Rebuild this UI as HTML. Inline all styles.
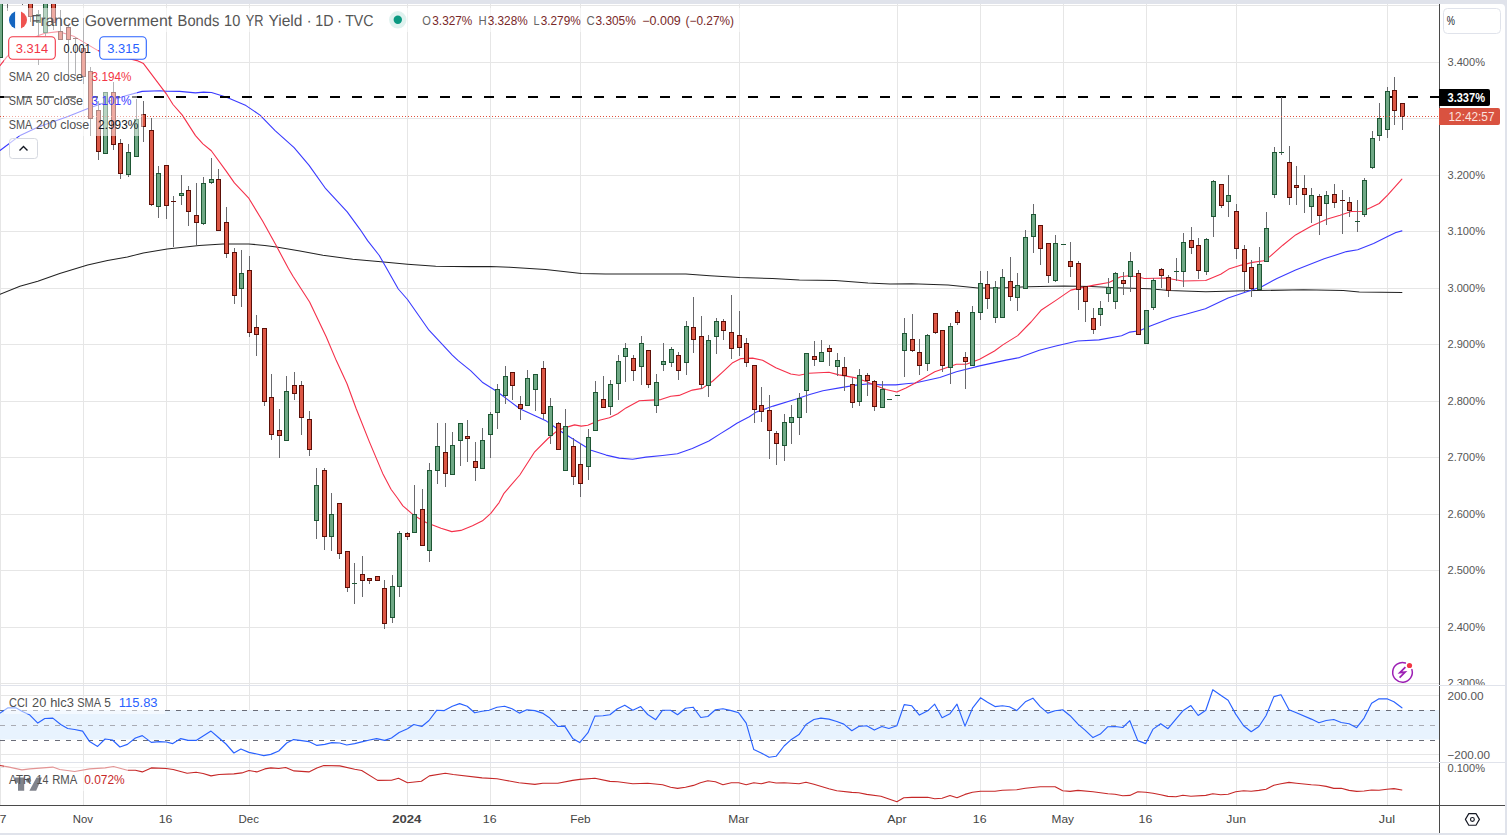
<!DOCTYPE html>
<html><head><meta charset="utf-8"><title>chart</title>
<style>html,body{margin:0;padding:0;background:#e0e3eb;}body{width:1507px;height:835px;overflow:hidden;position:relative;font-family:"Liberation Sans", sans-serif;}</style>
</head><body>
<svg width="1507" height="835" viewBox="0 0 1507 835" style="position:absolute;left:0;top:0;font-family:&quot;Liberation Sans&quot;,sans-serif"><defs><clipPath id="main"><rect x="0" y="4" width="1439" height="681"/></clipPath><clipPath id="cci"><rect x="0" y="686" width="1439" height="76"/></clipPath><clipPath id="atr"><rect x="0" y="763" width="1439" height="42"/></clipPath><clipPath id="pax"><rect x="1440" y="4" width="65" height="681"/></clipPath></defs><rect x="0" y="0" width="1507" height="835" fill="#e0e3eb"/><path d="M0,833 L0,8 Q0,4 4,4 L1501,4 Q1505,4 1505,8 L1505,833 Z" fill="#ffffff"/><g shape-rendering="crispEdges"><rect x="0" y="4" width="1" height="801" fill="#e6e6e6"/><rect x="83" y="4" width="1" height="801" fill="#e6e6e6"/><rect x="166" y="4" width="1" height="801" fill="#e6e6e6"/><rect x="249" y="4" width="1" height="801" fill="#e6e6e6"/><rect x="407" y="4" width="1" height="801" fill="#e6e6e6"/><rect x="490" y="4" width="1" height="801" fill="#e6e6e6"/><rect x="580" y="4" width="1" height="801" fill="#e6e6e6"/><rect x="739" y="4" width="1" height="801" fill="#e6e6e6"/><rect x="897" y="4" width="1" height="801" fill="#e6e6e6"/><rect x="980" y="4" width="1" height="801" fill="#e6e6e6"/><rect x="1063" y="4" width="1" height="801" fill="#e6e6e6"/><rect x="1146" y="4" width="1" height="801" fill="#e6e6e6"/><rect x="1236" y="4" width="1" height="801" fill="#e6e6e6"/><rect x="1387" y="4" width="1" height="801" fill="#e6e6e6"/><rect x="0" y="5" width="1439" height="1" fill="#e6e6e6"/><rect x="0" y="62" width="1439" height="1" fill="#e6e6e6"/><rect x="0" y="118" width="1439" height="1" fill="#e6e6e6"/><rect x="0" y="175" width="1439" height="1" fill="#e6e6e6"/><rect x="0" y="231" width="1439" height="1" fill="#e6e6e6"/><rect x="0" y="288" width="1439" height="1" fill="#e6e6e6"/><rect x="0" y="344" width="1439" height="1" fill="#e6e6e6"/><rect x="0" y="401" width="1439" height="1" fill="#e6e6e6"/><rect x="0" y="457" width="1439" height="1" fill="#e6e6e6"/><rect x="0" y="514" width="1439" height="1" fill="#e6e6e6"/><rect x="0" y="570" width="1439" height="1" fill="#e6e6e6"/><rect x="0" y="627" width="1439" height="1" fill="#e6e6e6"/><rect x="0" y="683" width="1439" height="1" fill="#e6e6e6"/><rect x="0" y="695" width="1439" height="1" fill="#e6e6e6"/><rect x="0" y="754" width="1439" height="1" fill="#e6e6e6"/><rect x="0" y="767" width="1439" height="1" fill="#e6e6e6"/></g><rect x="0" y="710" width="1439" height="29.5" fill="#e8f3fe"/><g shape-rendering="crispEdges"><line x1="0" y1="710.5" x2="1436" y2="710.5" stroke="#6a6d78" stroke-width="1" stroke-dasharray="5 6"/><line x1="0" y1="725.5" x2="1436" y2="725.5" stroke="#a9abb3" stroke-width="1" stroke-dasharray="5 6"/><line x1="0" y1="740.5" x2="1436" y2="740.5" stroke="#6a6d78" stroke-width="1" stroke-dasharray="5 6"/></g><polyline points="0.0,294.3 19.9,286.3 37.8,281.3 59.7,273.4 87.6,265.0 107.5,260.4 127.4,257.1 143.3,252.9 167.2,249.1 199.1,245.5 223.0,243.9 248.9,243.9 264.8,245.5 276.4,246.9 300.0,251.1 322.9,255.2 352.7,259.2 380.9,261.8 407.5,264.2 435.7,266.3 470.0,266.6 490.3,266.6 509.7,267.2 545.5,269.6 581.4,273.4 605.3,274.0 644.1,274.0 685.9,274.0 709.8,275.8 739.6,277.6 772.5,278.5 799.4,280.0 835.2,280.6 868.0,283.0 890.0,284.1 911.6,283.8 948.1,285.1 977.9,287.9 1000.0,288.0 1028.2,286.8 1063.9,286.0 1091.2,286.5 1116.1,287.7 1149.3,288.8 1169.2,290.5 1205.7,291.8 1255.7,290.6 1303.5,289.8 1343.3,290.6 1359.3,291.9 1401.9,292.5" fill="none" stroke="#222222" stroke-width="1.05" stroke-linejoin="round" stroke-linecap="round" clip-path="url(#main)"/><polyline points="0.0,150.5 10.0,143.0 20.1,135.4 37.7,127.3 67.9,116.6 88.0,108.4 100.6,104.0 125.8,95.8 142.1,91.4 160.0,90.8 166.3,91.2 179.6,91.4 195.5,92.9 203.5,92.1 211.5,92.5 226.0,97.1 246.0,105.6 260.0,115.1 275.1,130.6 294.1,147.7 309.1,165.4 325.7,188.7 347.2,211.9 360.0,229.3 367.6,240.6 379.3,255.5 398.3,289.0 407.5,299.5 429.0,330.2 452.3,355.1 458.2,360.6 470.6,370.6 482.3,382.2 496.6,391.3 519.8,408.7 546.4,421.1 562.9,432.7 576.2,441.0 591.1,450.2 606.1,455.1 619.3,458.1 632.6,459.3 645.9,457.1 662.5,455.5 677.4,453.8 692.3,448.5 708.9,441.0 720.5,433.6 730.0,427.8 736.9,423.3 749.3,416.7 756.6,411.9 773.2,406.1 794.7,399.5 809.7,394.5 822.9,390.7 839.5,387.9 856.1,385.1 869.4,383.7 881.0,384.9 895.9,384.9 905.9,383.7 914.9,383.0 939.8,377.5 956.4,371.7 979.6,365.9 1006.1,360.1 1019.4,357.6 1039.3,350.2 1055.9,346.0 1077.5,341.0 1099.0,339.9 1121.6,335.7 1129.9,332.1 1139.5,330.7 1150.3,326.1 1171.9,317.7 1185.8,314.2 1205.4,308.7 1228.1,298.0 1249.7,290.8 1262.1,286.6 1276.4,278.7 1295.6,269.9 1324.2,258.8 1346.5,251.6 1357.7,249.7 1373.6,243.6 1387.6,236.5 1395.9,232.5 1401.9,230.9" fill="none" stroke="#3a3aff" stroke-width="1.1" stroke-linejoin="round" stroke-linecap="round" clip-path="url(#main)"/><polyline points="0.0,65.6 7.0,56.6 20.0,45.6 38.5,35.6 45.0,33.2 58.5,31.6 74.4,36.6 98.0,50.6 137.0,60.6 143.5,63.6 166.3,93.8 173.0,104.5 182.3,115.1 195.5,135.6 202.9,143.8 211.3,150.7 226.0,170.9 234.4,182.9 248.5,197.8 262.6,221.0 275.9,245.1 288.3,268.3 293.0,276.3 309.6,302.0 326.2,336.8 336.3,360.6 347.0,383.8 356.2,408.7 369.4,441.9 382.7,473.4 391.0,489.2 397.6,498.3 402.9,505.9 414.5,515.8 426.1,522.5 441.0,528.3 451.8,531.6 460.9,530.4 472.5,525.8 482.5,520.8 490.8,513.3 499.1,502.6 504.0,493.3 519.8,475.0 534.7,451.8 548.0,438.5 558.0,430.2 567.9,426.9 574.6,424.9 581.2,426.1 587.8,425.3 599.4,420.3 609.4,417.8 617.7,413.7 626.0,407.9 639.3,400.7 650.9,400.1 660.8,399.6 670.8,396.2 679.1,395.4 692.3,390.1 702.3,388.4 712.8,381.0 722.8,371.9 732.7,362.7 741.0,358.6 752.6,358.1 762.6,360.3 775.8,367.7 790.8,374.0 799.1,375.2 809.0,373.2 828.9,372.2 838.9,374.9 856.1,377.9 866.1,381.6 876.0,385.7 886.0,389.5 896.8,392.0 905.9,387.9 914.9,383.3 934.8,371.7 956.4,364.3 966.3,364.3 979.6,359.3 994.5,351.0 1002.8,344.9 1017.7,335.6 1031.0,322.0 1041.0,310.3 1055.9,300.4 1070.8,290.1 1080.8,287.9 1094.0,285.1 1109.0,282.5 1120.6,276.8 1128.9,275.8 1137.2,276.8 1144.3,278.5 1165.9,278.0 1182.5,281.0 1205.7,280.5 1220.7,274.2 1228.7,269.1 1241.4,265.1 1252.6,262.4 1263.7,260.8 1270.1,256.4 1282.8,245.2 1295.6,234.9 1311.5,226.1 1327.4,219.0 1340.1,215.3 1351.3,211.5 1362.4,211.3 1370.4,207.8 1379.2,203.5 1387.6,195.1 1401.9,179.1" fill="none" stroke="#f5304a" stroke-width="1.1" stroke-linejoin="round" stroke-linecap="round" clip-path="url(#main)"/><g shape-rendering="crispEdges"><line x1="0" y1="97" x2="1439" y2="97" stroke="#000" stroke-width="2" stroke-dasharray="10 12"/></g><g shape-rendering="crispEdges" clip-path="url(#main)"><rect x="0" y="-20" width="1" height="78" fill="#69696d"/><rect x="-2" y="-20" width="5" height="78" fill="#1e5634"/><rect x="-1" y="-19" width="3" height="76" fill="#6fa885"/><rect x="7" y="-20" width="1" height="31" fill="#69696d"/><rect x="5" y="-20" width="5" height="10" fill="#1e5634"/><rect x="6" y="-19" width="3" height="8" fill="#6fa885"/><rect x="22" y="-20" width="1" height="25" fill="#69696d"/><rect x="20" y="-20" width="5" height="10" fill="#5c0f08"/><rect x="21" y="-19" width="3" height="8" fill="#dc5745"/><rect x="30" y="-20" width="1" height="42" fill="#69696d"/><rect x="28" y="-20" width="5" height="37" fill="#5c0f08"/><rect x="29" y="-19" width="3" height="35" fill="#dc5745"/><rect x="38" y="10" width="1" height="55" fill="#69696d"/><rect x="36" y="14" width="5" height="9" fill="#1e5634"/><rect x="37" y="15" width="3" height="7" fill="#6fa885"/><rect x="45" y="-20" width="1" height="56" fill="#69696d"/><rect x="43" y="-20" width="5" height="53" fill="#1e5634"/><rect x="44" y="-19" width="3" height="51" fill="#6fa885"/><rect x="53" y="-20" width="1" height="50" fill="#69696d"/><rect x="51" y="-20" width="5" height="43" fill="#5c0f08"/><rect x="52" y="-19" width="3" height="41" fill="#dc5745"/><rect x="60" y="10" width="1" height="30" fill="#69696d"/><rect x="58" y="31" width="5" height="9" fill="#5c0f08"/><rect x="59" y="32" width="3" height="7" fill="#dc5745"/><rect x="68" y="25" width="1" height="51" fill="#69696d"/><rect x="66" y="27" width="5" height="13" fill="#5c0f08"/><rect x="67" y="28" width="3" height="11" fill="#dc5745"/><rect x="75" y="37" width="1" height="39" fill="#69696d"/><rect x="73" y="38" width="5" height="1" fill="#5c0f08"/><rect x="83" y="18" width="1" height="66" fill="#69696d"/><rect x="81" y="48" width="5" height="29" fill="#5c0f08"/><rect x="82" y="49" width="3" height="27" fill="#dc5745"/><rect x="90" y="67" width="1" height="69" fill="#69696d"/><rect x="88" y="71" width="5" height="48" fill="#5c0f08"/><rect x="89" y="72" width="3" height="46" fill="#dc5745"/><rect x="98" y="101" width="1" height="59" fill="#69696d"/><rect x="96" y="110" width="5" height="42" fill="#5c0f08"/><rect x="97" y="111" width="3" height="40" fill="#dc5745"/><rect x="105" y="92" width="1" height="62" fill="#69696d"/><rect x="103" y="92" width="5" height="62" fill="#1e5634"/><rect x="104" y="93" width="3" height="60" fill="#6fa885"/><rect x="113" y="82" width="1" height="68" fill="#69696d"/><rect x="111" y="92" width="5" height="53" fill="#5c0f08"/><rect x="112" y="93" width="3" height="51" fill="#dc5745"/><rect x="120" y="139" width="1" height="40" fill="#69696d"/><rect x="118" y="143" width="5" height="31" fill="#5c0f08"/><rect x="119" y="144" width="3" height="29" fill="#dc5745"/><rect x="128" y="144" width="1" height="33" fill="#69696d"/><rect x="126" y="152" width="5" height="23" fill="#1e5634"/><rect x="127" y="153" width="3" height="21" fill="#6fa885"/><rect x="136" y="99" width="1" height="58" fill="#69696d"/><rect x="134" y="119" width="5" height="38" fill="#1e5634"/><rect x="135" y="120" width="3" height="36" fill="#6fa885"/><rect x="143" y="101" width="1" height="41" fill="#69696d"/><rect x="141" y="114" width="5" height="13" fill="#5c0f08"/><rect x="142" y="115" width="3" height="11" fill="#dc5745"/><rect x="151" y="118" width="1" height="88" fill="#69696d"/><rect x="149" y="130" width="5" height="75" fill="#5c0f08"/><rect x="150" y="131" width="3" height="73" fill="#dc5745"/><rect x="158" y="166" width="1" height="52" fill="#69696d"/><rect x="156" y="173" width="5" height="34" fill="#1e5634"/><rect x="157" y="174" width="3" height="32" fill="#6fa885"/><rect x="166" y="165" width="1" height="54" fill="#69696d"/><rect x="164" y="165" width="5" height="41" fill="#5c0f08"/><rect x="165" y="166" width="3" height="39" fill="#dc5745"/><rect x="173" y="196" width="1" height="51" fill="#69696d"/><rect x="171" y="201" width="5" height="1" fill="#5c0f08"/><rect x="181" y="175" width="1" height="30" fill="#69696d"/><rect x="179" y="193" width="5" height="3" fill="#1e5634"/><rect x="180" y="194" width="3" height="1" fill="#6fa885"/><rect x="188" y="186" width="1" height="40" fill="#69696d"/><rect x="186" y="190" width="5" height="22" fill="#5c0f08"/><rect x="187" y="191" width="3" height="20" fill="#dc5745"/><rect x="196" y="183" width="1" height="62" fill="#69696d"/><rect x="194" y="215" width="5" height="8" fill="#5c0f08"/><rect x="195" y="216" width="3" height="6" fill="#dc5745"/><rect x="203" y="177" width="1" height="48" fill="#69696d"/><rect x="201" y="183" width="5" height="41" fill="#1e5634"/><rect x="202" y="184" width="3" height="39" fill="#6fa885"/><rect x="211" y="158" width="1" height="26" fill="#69696d"/><rect x="209" y="179" width="5" height="4" fill="#1e5634"/><rect x="210" y="180" width="3" height="2" fill="#6fa885"/><rect x="218" y="169" width="1" height="62" fill="#69696d"/><rect x="216" y="179" width="5" height="52" fill="#5c0f08"/><rect x="217" y="180" width="3" height="50" fill="#dc5745"/><rect x="226" y="207" width="1" height="51" fill="#69696d"/><rect x="224" y="222" width="5" height="32" fill="#5c0f08"/><rect x="225" y="223" width="3" height="30" fill="#dc5745"/><rect x="234" y="248" width="1" height="56" fill="#69696d"/><rect x="232" y="252" width="5" height="44" fill="#5c0f08"/><rect x="233" y="253" width="3" height="42" fill="#dc5745"/><rect x="241" y="250" width="1" height="57" fill="#69696d"/><rect x="239" y="273" width="5" height="16" fill="#1e5634"/><rect x="240" y="274" width="3" height="14" fill="#6fa885"/><rect x="249" y="256" width="1" height="81" fill="#69696d"/><rect x="247" y="270" width="5" height="63" fill="#5c0f08"/><rect x="248" y="271" width="3" height="61" fill="#dc5745"/><rect x="256" y="315" width="1" height="41" fill="#69696d"/><rect x="254" y="327" width="5" height="8" fill="#5c0f08"/><rect x="255" y="328" width="3" height="6" fill="#dc5745"/><rect x="264" y="328" width="1" height="78" fill="#69696d"/><rect x="262" y="328" width="5" height="74" fill="#5c0f08"/><rect x="263" y="329" width="3" height="72" fill="#dc5745"/><rect x="271" y="374" width="1" height="66" fill="#69696d"/><rect x="269" y="397" width="5" height="38" fill="#5c0f08"/><rect x="270" y="398" width="3" height="36" fill="#dc5745"/><rect x="279" y="409" width="1" height="49" fill="#69696d"/><rect x="277" y="430" width="5" height="6" fill="#5c0f08"/><rect x="278" y="431" width="3" height="4" fill="#dc5745"/><rect x="286" y="376" width="1" height="65" fill="#69696d"/><rect x="284" y="391" width="5" height="50" fill="#1e5634"/><rect x="285" y="392" width="3" height="48" fill="#6fa885"/><rect x="294" y="372" width="1" height="28" fill="#69696d"/><rect x="292" y="385" width="5" height="9" fill="#5c0f08"/><rect x="293" y="386" width="3" height="7" fill="#dc5745"/><rect x="301" y="381" width="1" height="54" fill="#69696d"/><rect x="299" y="385" width="5" height="33" fill="#5c0f08"/><rect x="300" y="386" width="3" height="31" fill="#dc5745"/><rect x="309" y="411" width="1" height="45" fill="#69696d"/><rect x="307" y="419" width="5" height="31" fill="#5c0f08"/><rect x="308" y="420" width="3" height="29" fill="#dc5745"/><rect x="316" y="468" width="1" height="71" fill="#69696d"/><rect x="314" y="485" width="5" height="36" fill="#1e5634"/><rect x="315" y="486" width="3" height="34" fill="#6fa885"/><rect x="324" y="468" width="1" height="82" fill="#69696d"/><rect x="322" y="470" width="5" height="67" fill="#5c0f08"/><rect x="323" y="471" width="3" height="65" fill="#dc5745"/><rect x="331" y="493" width="1" height="58" fill="#69696d"/><rect x="329" y="514" width="5" height="23" fill="#1e5634"/><rect x="330" y="515" width="3" height="21" fill="#6fa885"/><rect x="339" y="503" width="1" height="56" fill="#69696d"/><rect x="337" y="503" width="5" height="51" fill="#5c0f08"/><rect x="338" y="504" width="3" height="49" fill="#dc5745"/><rect x="347" y="551" width="1" height="41" fill="#69696d"/><rect x="345" y="551" width="5" height="37" fill="#5c0f08"/><rect x="346" y="552" width="3" height="35" fill="#dc5745"/><rect x="354" y="563" width="1" height="41" fill="#69696d"/><rect x="352" y="583" width="5" height="1" fill="#1e5634"/><rect x="362" y="556" width="1" height="41" fill="#69696d"/><rect x="360" y="574" width="5" height="7" fill="#5c0f08"/><rect x="361" y="575" width="3" height="5" fill="#dc5745"/><rect x="369" y="578" width="1" height="6" fill="#69696d"/><rect x="367" y="578" width="5" height="3" fill="#5c0f08"/><rect x="368" y="579" width="3" height="1" fill="#dc5745"/><rect x="377" y="576" width="1" height="5" fill="#69696d"/><rect x="375" y="576" width="5" height="5" fill="#5c0f08"/><rect x="376" y="577" width="3" height="3" fill="#dc5745"/><rect x="384" y="580" width="1" height="49" fill="#69696d"/><rect x="382" y="588" width="5" height="36" fill="#5c0f08"/><rect x="383" y="589" width="3" height="34" fill="#dc5745"/><rect x="392" y="575" width="1" height="48" fill="#69696d"/><rect x="390" y="586" width="5" height="32" fill="#1e5634"/><rect x="391" y="587" width="3" height="30" fill="#6fa885"/><rect x="399" y="531" width="1" height="66" fill="#69696d"/><rect x="397" y="533" width="5" height="54" fill="#1e5634"/><rect x="398" y="534" width="3" height="52" fill="#6fa885"/><rect x="407" y="532" width="1" height="8" fill="#69696d"/><rect x="405" y="533" width="5" height="4" fill="#5c0f08"/><rect x="406" y="534" width="3" height="2" fill="#dc5745"/><rect x="414" y="485" width="1" height="48" fill="#69696d"/><rect x="412" y="514" width="5" height="19" fill="#1e5634"/><rect x="413" y="515" width="3" height="17" fill="#6fa885"/><rect x="422" y="489" width="1" height="57" fill="#69696d"/><rect x="420" y="509" width="5" height="37" fill="#5c0f08"/><rect x="421" y="510" width="3" height="35" fill="#dc5745"/><rect x="429" y="463" width="1" height="99" fill="#69696d"/><rect x="427" y="470" width="5" height="81" fill="#1e5634"/><rect x="428" y="471" width="3" height="79" fill="#6fa885"/><rect x="437" y="423" width="1" height="61" fill="#69696d"/><rect x="435" y="446" width="5" height="25" fill="#1e5634"/><rect x="436" y="447" width="3" height="23" fill="#6fa885"/><rect x="445" y="423" width="1" height="64" fill="#69696d"/><rect x="443" y="452" width="5" height="22" fill="#5c0f08"/><rect x="444" y="453" width="3" height="20" fill="#dc5745"/><rect x="452" y="432" width="1" height="43" fill="#69696d"/><rect x="450" y="445" width="5" height="30" fill="#1e5634"/><rect x="451" y="446" width="3" height="28" fill="#6fa885"/><rect x="460" y="423" width="1" height="43" fill="#69696d"/><rect x="458" y="423" width="5" height="18" fill="#1e5634"/><rect x="459" y="424" width="3" height="16" fill="#6fa885"/><rect x="467" y="420" width="1" height="42" fill="#69696d"/><rect x="465" y="436" width="5" height="3" fill="#5c0f08"/><rect x="466" y="437" width="3" height="1" fill="#dc5745"/><rect x="475" y="442" width="1" height="39" fill="#69696d"/><rect x="473" y="461" width="5" height="7" fill="#5c0f08"/><rect x="474" y="462" width="3" height="5" fill="#dc5745"/><rect x="482" y="428" width="1" height="41" fill="#69696d"/><rect x="480" y="440" width="5" height="29" fill="#1e5634"/><rect x="481" y="441" width="3" height="27" fill="#6fa885"/><rect x="490" y="412" width="1" height="46" fill="#69696d"/><rect x="488" y="414" width="5" height="21" fill="#1e5634"/><rect x="489" y="415" width="3" height="19" fill="#6fa885"/><rect x="497" y="384" width="1" height="45" fill="#69696d"/><rect x="495" y="389" width="5" height="24" fill="#1e5634"/><rect x="496" y="390" width="3" height="22" fill="#6fa885"/><rect x="505" y="366" width="1" height="38" fill="#69696d"/><rect x="503" y="376" width="5" height="20" fill="#1e5634"/><rect x="504" y="377" width="3" height="18" fill="#6fa885"/><rect x="512" y="372" width="1" height="28" fill="#69696d"/><rect x="510" y="372" width="5" height="14" fill="#5c0f08"/><rect x="511" y="373" width="3" height="12" fill="#dc5745"/><rect x="520" y="396" width="1" height="24" fill="#69696d"/><rect x="518" y="404" width="5" height="5" fill="#5c0f08"/><rect x="519" y="405" width="3" height="3" fill="#dc5745"/><rect x="527" y="370" width="1" height="36" fill="#69696d"/><rect x="525" y="378" width="5" height="28" fill="#1e5634"/><rect x="526" y="379" width="3" height="26" fill="#6fa885"/><rect x="535" y="374" width="1" height="37" fill="#69696d"/><rect x="533" y="374" width="5" height="16" fill="#1e5634"/><rect x="534" y="375" width="3" height="14" fill="#6fa885"/><rect x="543" y="361" width="1" height="58" fill="#69696d"/><rect x="541" y="368" width="5" height="46" fill="#5c0f08"/><rect x="542" y="369" width="3" height="44" fill="#dc5745"/><rect x="550" y="398" width="1" height="46" fill="#69696d"/><rect x="548" y="406" width="5" height="30" fill="#1e5634"/><rect x="549" y="407" width="3" height="28" fill="#6fa885"/><rect x="558" y="422" width="1" height="28" fill="#69696d"/><rect x="556" y="423" width="5" height="27" fill="#5c0f08"/><rect x="557" y="424" width="3" height="25" fill="#dc5745"/><rect x="565" y="409" width="1" height="62" fill="#69696d"/><rect x="563" y="426" width="5" height="45" fill="#1e5634"/><rect x="564" y="427" width="3" height="43" fill="#6fa885"/><rect x="573" y="438" width="1" height="47" fill="#69696d"/><rect x="571" y="446" width="5" height="31" fill="#5c0f08"/><rect x="572" y="447" width="3" height="29" fill="#dc5745"/><rect x="580" y="443" width="1" height="54" fill="#69696d"/><rect x="578" y="464" width="5" height="20" fill="#5c0f08"/><rect x="579" y="465" width="3" height="18" fill="#dc5745"/><rect x="588" y="429" width="1" height="51" fill="#69696d"/><rect x="586" y="437" width="5" height="30" fill="#1e5634"/><rect x="587" y="438" width="3" height="28" fill="#6fa885"/><rect x="595" y="381" width="1" height="50" fill="#69696d"/><rect x="593" y="392" width="5" height="39" fill="#1e5634"/><rect x="594" y="393" width="3" height="37" fill="#6fa885"/><rect x="603" y="376" width="1" height="32" fill="#69696d"/><rect x="601" y="399" width="5" height="9" fill="#5c0f08"/><rect x="602" y="400" width="3" height="7" fill="#dc5745"/><rect x="610" y="380" width="1" height="35" fill="#69696d"/><rect x="608" y="384" width="5" height="23" fill="#1e5634"/><rect x="609" y="385" width="3" height="21" fill="#6fa885"/><rect x="618" y="355" width="1" height="45" fill="#69696d"/><rect x="616" y="361" width="5" height="23" fill="#1e5634"/><rect x="617" y="362" width="3" height="21" fill="#6fa885"/><rect x="625" y="343" width="1" height="39" fill="#69696d"/><rect x="623" y="348" width="5" height="9" fill="#1e5634"/><rect x="624" y="349" width="3" height="7" fill="#6fa885"/><rect x="633" y="355" width="1" height="26" fill="#69696d"/><rect x="631" y="358" width="5" height="13" fill="#5c0f08"/><rect x="632" y="359" width="3" height="11" fill="#dc5745"/><rect x="641" y="336" width="1" height="49" fill="#69696d"/><rect x="639" y="343" width="5" height="24" fill="#1e5634"/><rect x="640" y="344" width="3" height="22" fill="#6fa885"/><rect x="648" y="350" width="1" height="38" fill="#69696d"/><rect x="646" y="350" width="5" height="35" fill="#5c0f08"/><rect x="647" y="351" width="3" height="33" fill="#dc5745"/><rect x="656" y="374" width="1" height="39" fill="#69696d"/><rect x="654" y="382" width="5" height="24" fill="#1e5634"/><rect x="655" y="383" width="3" height="22" fill="#6fa885"/><rect x="663" y="343" width="1" height="28" fill="#69696d"/><rect x="661" y="361" width="5" height="4" fill="#1e5634"/><rect x="662" y="362" width="3" height="2" fill="#6fa885"/><rect x="671" y="347" width="1" height="20" fill="#69696d"/><rect x="669" y="349" width="5" height="14" fill="#1e5634"/><rect x="670" y="350" width="3" height="12" fill="#6fa885"/><rect x="678" y="352" width="1" height="28" fill="#69696d"/><rect x="676" y="355" width="5" height="16" fill="#5c0f08"/><rect x="677" y="356" width="3" height="14" fill="#dc5745"/><rect x="686" y="321" width="1" height="54" fill="#69696d"/><rect x="684" y="326" width="5" height="37" fill="#1e5634"/><rect x="685" y="327" width="3" height="35" fill="#6fa885"/><rect x="693" y="297" width="1" height="56" fill="#69696d"/><rect x="691" y="327" width="5" height="13" fill="#5c0f08"/><rect x="692" y="328" width="3" height="11" fill="#dc5745"/><rect x="701" y="316" width="1" height="73" fill="#69696d"/><rect x="699" y="336" width="5" height="49" fill="#5c0f08"/><rect x="700" y="337" width="3" height="47" fill="#dc5745"/><rect x="708" y="335" width="1" height="62" fill="#69696d"/><rect x="706" y="340" width="5" height="46" fill="#1e5634"/><rect x="707" y="341" width="3" height="44" fill="#6fa885"/><rect x="716" y="318" width="1" height="36" fill="#69696d"/><rect x="714" y="321" width="5" height="16" fill="#1e5634"/><rect x="715" y="322" width="3" height="14" fill="#6fa885"/><rect x="723" y="319" width="1" height="21" fill="#69696d"/><rect x="721" y="321" width="5" height="10" fill="#5c0f08"/><rect x="722" y="322" width="3" height="8" fill="#dc5745"/><rect x="731" y="295" width="1" height="64" fill="#69696d"/><rect x="729" y="332" width="5" height="17" fill="#5c0f08"/><rect x="730" y="333" width="3" height="15" fill="#dc5745"/><rect x="739" y="311" width="1" height="45" fill="#69696d"/><rect x="737" y="335" width="5" height="13" fill="#5c0f08"/><rect x="738" y="336" width="3" height="11" fill="#dc5745"/><rect x="746" y="338" width="1" height="29" fill="#69696d"/><rect x="744" y="343" width="5" height="20" fill="#5c0f08"/><rect x="745" y="344" width="3" height="18" fill="#dc5745"/><rect x="754" y="365" width="1" height="58" fill="#69696d"/><rect x="752" y="365" width="5" height="45" fill="#5c0f08"/><rect x="753" y="366" width="3" height="43" fill="#dc5745"/><rect x="761" y="387" width="1" height="35" fill="#69696d"/><rect x="759" y="405" width="5" height="7" fill="#5c0f08"/><rect x="760" y="406" width="3" height="5" fill="#dc5745"/><rect x="769" y="395" width="1" height="64" fill="#69696d"/><rect x="767" y="410" width="5" height="21" fill="#5c0f08"/><rect x="768" y="411" width="3" height="19" fill="#dc5745"/><rect x="776" y="431" width="1" height="34" fill="#69696d"/><rect x="774" y="433" width="5" height="11" fill="#5c0f08"/><rect x="775" y="434" width="3" height="9" fill="#dc5745"/><rect x="784" y="414" width="1" height="47" fill="#69696d"/><rect x="782" y="422" width="5" height="24" fill="#1e5634"/><rect x="783" y="423" width="3" height="22" fill="#6fa885"/><rect x="791" y="405" width="1" height="39" fill="#69696d"/><rect x="789" y="417" width="5" height="6" fill="#1e5634"/><rect x="790" y="418" width="3" height="4" fill="#6fa885"/><rect x="799" y="393" width="1" height="42" fill="#69696d"/><rect x="797" y="398" width="5" height="20" fill="#1e5634"/><rect x="798" y="399" width="3" height="18" fill="#6fa885"/><rect x="806" y="353" width="1" height="60" fill="#69696d"/><rect x="804" y="353" width="5" height="38" fill="#1e5634"/><rect x="805" y="354" width="3" height="36" fill="#6fa885"/><rect x="814" y="341" width="1" height="25" fill="#69696d"/><rect x="812" y="356" width="5" height="4" fill="#5c0f08"/><rect x="813" y="357" width="3" height="2" fill="#dc5745"/><rect x="821" y="340" width="1" height="22" fill="#69696d"/><rect x="819" y="352" width="5" height="10" fill="#1e5634"/><rect x="820" y="353" width="3" height="8" fill="#6fa885"/><rect x="829" y="345" width="1" height="21" fill="#69696d"/><rect x="827" y="348" width="5" height="4" fill="#5c0f08"/><rect x="828" y="349" width="3" height="2" fill="#dc5745"/><rect x="837" y="353" width="1" height="23" fill="#69696d"/><rect x="835" y="360" width="5" height="7" fill="#1e5634"/><rect x="836" y="361" width="3" height="5" fill="#6fa885"/><rect x="844" y="357" width="1" height="34" fill="#69696d"/><rect x="842" y="367" width="5" height="9" fill="#5c0f08"/><rect x="843" y="368" width="3" height="7" fill="#dc5745"/><rect x="852" y="378" width="1" height="30" fill="#69696d"/><rect x="850" y="384" width="5" height="19" fill="#5c0f08"/><rect x="851" y="385" width="3" height="17" fill="#dc5745"/><rect x="859" y="369" width="1" height="37" fill="#69696d"/><rect x="857" y="375" width="5" height="27" fill="#1e5634"/><rect x="858" y="376" width="3" height="25" fill="#6fa885"/><rect x="867" y="373" width="1" height="23" fill="#69696d"/><rect x="865" y="375" width="5" height="6" fill="#5c0f08"/><rect x="866" y="376" width="3" height="4" fill="#dc5745"/><rect x="874" y="380" width="1" height="31" fill="#69696d"/><rect x="872" y="381" width="5" height="26" fill="#5c0f08"/><rect x="873" y="382" width="3" height="24" fill="#dc5745"/><rect x="882" y="381" width="1" height="27" fill="#69696d"/><rect x="880" y="389" width="5" height="19" fill="#1e5634"/><rect x="881" y="390" width="3" height="17" fill="#6fa885"/><rect x="887" y="399" width="5" height="1" fill="#1e5634"/><rect x="895" y="395" width="5" height="1" fill="#1e5634"/><rect x="904" y="318" width="1" height="59" fill="#69696d"/><rect x="902" y="333" width="5" height="18" fill="#1e5634"/><rect x="903" y="334" width="3" height="16" fill="#6fa885"/><rect x="912" y="314" width="1" height="38" fill="#69696d"/><rect x="910" y="339" width="5" height="12" fill="#5c0f08"/><rect x="911" y="340" width="3" height="10" fill="#dc5745"/><rect x="919" y="339" width="1" height="36" fill="#69696d"/><rect x="917" y="352" width="5" height="14" fill="#5c0f08"/><rect x="918" y="353" width="3" height="12" fill="#dc5745"/><rect x="927" y="334" width="1" height="37" fill="#69696d"/><rect x="925" y="335" width="5" height="29" fill="#1e5634"/><rect x="926" y="336" width="3" height="27" fill="#6fa885"/><rect x="935" y="313" width="1" height="21" fill="#69696d"/><rect x="933" y="313" width="5" height="20" fill="#5c0f08"/><rect x="934" y="314" width="3" height="18" fill="#dc5745"/><rect x="942" y="330" width="1" height="42" fill="#69696d"/><rect x="940" y="330" width="5" height="36" fill="#5c0f08"/><rect x="941" y="331" width="3" height="34" fill="#dc5745"/><rect x="950" y="323" width="1" height="61" fill="#69696d"/><rect x="948" y="326" width="5" height="42" fill="#1e5634"/><rect x="949" y="327" width="3" height="40" fill="#6fa885"/><rect x="957" y="310" width="1" height="15" fill="#69696d"/><rect x="955" y="312" width="5" height="11" fill="#5c0f08"/><rect x="956" y="313" width="3" height="9" fill="#dc5745"/><rect x="965" y="352" width="1" height="37" fill="#69696d"/><rect x="963" y="357" width="5" height="5" fill="#5c0f08"/><rect x="964" y="358" width="3" height="3" fill="#dc5745"/><rect x="972" y="306" width="1" height="60" fill="#69696d"/><rect x="970" y="312" width="5" height="54" fill="#1e5634"/><rect x="971" y="313" width="3" height="52" fill="#6fa885"/><rect x="980" y="271" width="1" height="49" fill="#69696d"/><rect x="978" y="283" width="5" height="30" fill="#1e5634"/><rect x="979" y="284" width="3" height="28" fill="#6fa885"/><rect x="987" y="271" width="1" height="38" fill="#69696d"/><rect x="985" y="284" width="5" height="15" fill="#5c0f08"/><rect x="986" y="285" width="3" height="13" fill="#dc5745"/><rect x="995" y="281" width="1" height="42" fill="#69696d"/><rect x="993" y="287" width="5" height="31" fill="#1e5634"/><rect x="994" y="288" width="3" height="29" fill="#6fa885"/><rect x="1002" y="269" width="1" height="49" fill="#69696d"/><rect x="1000" y="277" width="5" height="41" fill="#1e5634"/><rect x="1001" y="278" width="3" height="39" fill="#6fa885"/><rect x="1010" y="257" width="1" height="44" fill="#69696d"/><rect x="1008" y="281" width="5" height="16" fill="#5c0f08"/><rect x="1009" y="282" width="3" height="14" fill="#dc5745"/><rect x="1017" y="273" width="1" height="38" fill="#69696d"/><rect x="1015" y="285" width="5" height="13" fill="#1e5634"/><rect x="1016" y="286" width="3" height="11" fill="#6fa885"/><rect x="1025" y="230" width="1" height="59" fill="#69696d"/><rect x="1023" y="237" width="5" height="52" fill="#1e5634"/><rect x="1024" y="238" width="3" height="50" fill="#6fa885"/><rect x="1033" y="204" width="1" height="49" fill="#69696d"/><rect x="1031" y="214" width="5" height="23" fill="#1e5634"/><rect x="1032" y="215" width="3" height="21" fill="#6fa885"/><rect x="1040" y="225" width="1" height="40" fill="#69696d"/><rect x="1038" y="225" width="5" height="24" fill="#5c0f08"/><rect x="1039" y="226" width="3" height="22" fill="#dc5745"/><rect x="1048" y="243" width="1" height="40" fill="#69696d"/><rect x="1046" y="243" width="5" height="33" fill="#5c0f08"/><rect x="1047" y="244" width="3" height="31" fill="#dc5745"/><rect x="1055" y="235" width="1" height="47" fill="#69696d"/><rect x="1053" y="243" width="5" height="38" fill="#1e5634"/><rect x="1054" y="244" width="3" height="36" fill="#6fa885"/><rect x="1061" y="244" width="5" height="1" fill="#1e5634"/><rect x="1070" y="242" width="1" height="35" fill="#69696d"/><rect x="1068" y="261" width="5" height="6" fill="#5c0f08"/><rect x="1069" y="262" width="3" height="4" fill="#dc5745"/><rect x="1078" y="261" width="1" height="49" fill="#69696d"/><rect x="1076" y="263" width="5" height="27" fill="#5c0f08"/><rect x="1077" y="264" width="3" height="25" fill="#dc5745"/><rect x="1085" y="286" width="1" height="36" fill="#69696d"/><rect x="1083" y="286" width="5" height="16" fill="#5c0f08"/><rect x="1084" y="287" width="3" height="14" fill="#dc5745"/><rect x="1093" y="308" width="1" height="26" fill="#69696d"/><rect x="1091" y="318" width="5" height="12" fill="#5c0f08"/><rect x="1092" y="319" width="3" height="10" fill="#dc5745"/><rect x="1100" y="301" width="1" height="25" fill="#69696d"/><rect x="1098" y="308" width="5" height="7" fill="#1e5634"/><rect x="1099" y="309" width="3" height="5" fill="#6fa885"/><rect x="1108" y="278" width="1" height="24" fill="#69696d"/><rect x="1106" y="287" width="5" height="7" fill="#1e5634"/><rect x="1107" y="288" width="3" height="5" fill="#6fa885"/><rect x="1115" y="272" width="1" height="37" fill="#69696d"/><rect x="1113" y="273" width="5" height="29" fill="#1e5634"/><rect x="1114" y="274" width="3" height="27" fill="#6fa885"/><rect x="1123" y="272" width="1" height="23" fill="#69696d"/><rect x="1121" y="280" width="5" height="4" fill="#5c0f08"/><rect x="1122" y="281" width="3" height="2" fill="#dc5745"/><rect x="1130" y="252" width="1" height="40" fill="#69696d"/><rect x="1128" y="261" width="5" height="16" fill="#1e5634"/><rect x="1129" y="262" width="3" height="14" fill="#6fa885"/><rect x="1138" y="270" width="1" height="65" fill="#69696d"/><rect x="1136" y="273" width="5" height="62" fill="#5c0f08"/><rect x="1137" y="274" width="3" height="60" fill="#dc5745"/><rect x="1146" y="310" width="1" height="34" fill="#69696d"/><rect x="1144" y="310" width="5" height="34" fill="#1e5634"/><rect x="1145" y="311" width="3" height="32" fill="#6fa885"/><rect x="1153" y="278" width="1" height="32" fill="#69696d"/><rect x="1151" y="280" width="5" height="28" fill="#1e5634"/><rect x="1152" y="281" width="3" height="26" fill="#6fa885"/><rect x="1161" y="268" width="1" height="20" fill="#69696d"/><rect x="1159" y="269" width="5" height="7" fill="#5c0f08"/><rect x="1160" y="270" width="3" height="5" fill="#dc5745"/><rect x="1168" y="275" width="1" height="22" fill="#69696d"/><rect x="1166" y="277" width="5" height="14" fill="#5c0f08"/><rect x="1167" y="278" width="3" height="12" fill="#dc5745"/><rect x="1176" y="258" width="1" height="23" fill="#69696d"/><rect x="1174" y="271" width="5" height="1" fill="#1e5634"/><rect x="1183" y="233" width="1" height="54" fill="#69696d"/><rect x="1181" y="242" width="5" height="30" fill="#1e5634"/><rect x="1182" y="243" width="3" height="28" fill="#6fa885"/><rect x="1191" y="227" width="1" height="27" fill="#69696d"/><rect x="1189" y="240" width="5" height="8" fill="#5c0f08"/><rect x="1190" y="241" width="3" height="6" fill="#dc5745"/><rect x="1198" y="238" width="1" height="41" fill="#69696d"/><rect x="1196" y="245" width="5" height="26" fill="#5c0f08"/><rect x="1197" y="246" width="3" height="24" fill="#dc5745"/><rect x="1206" y="238" width="1" height="37" fill="#69696d"/><rect x="1204" y="239" width="5" height="33" fill="#1e5634"/><rect x="1205" y="240" width="3" height="31" fill="#6fa885"/><rect x="1213" y="180" width="1" height="57" fill="#69696d"/><rect x="1211" y="181" width="5" height="36" fill="#1e5634"/><rect x="1212" y="182" width="3" height="34" fill="#6fa885"/><rect x="1221" y="184" width="1" height="24" fill="#69696d"/><rect x="1219" y="184" width="5" height="22" fill="#5c0f08"/><rect x="1220" y="185" width="3" height="20" fill="#dc5745"/><rect x="1228" y="175" width="1" height="42" fill="#69696d"/><rect x="1226" y="195" width="5" height="7" fill="#1e5634"/><rect x="1227" y="196" width="3" height="5" fill="#6fa885"/><rect x="1236" y="204" width="1" height="55" fill="#69696d"/><rect x="1234" y="211" width="5" height="38" fill="#5c0f08"/><rect x="1235" y="212" width="3" height="36" fill="#dc5745"/><rect x="1244" y="245" width="1" height="47" fill="#69696d"/><rect x="1242" y="249" width="5" height="23" fill="#5c0f08"/><rect x="1243" y="250" width="3" height="21" fill="#dc5745"/><rect x="1251" y="260" width="1" height="37" fill="#69696d"/><rect x="1249" y="267" width="5" height="22" fill="#5c0f08"/><rect x="1250" y="268" width="3" height="20" fill="#dc5745"/><rect x="1259" y="247" width="1" height="43" fill="#69696d"/><rect x="1257" y="264" width="5" height="26" fill="#1e5634"/><rect x="1258" y="265" width="3" height="24" fill="#6fa885"/><rect x="1266" y="212" width="1" height="50" fill="#69696d"/><rect x="1264" y="228" width="5" height="34" fill="#1e5634"/><rect x="1265" y="229" width="3" height="32" fill="#6fa885"/><rect x="1274" y="147" width="1" height="51" fill="#69696d"/><rect x="1272" y="152" width="5" height="43" fill="#1e5634"/><rect x="1273" y="153" width="3" height="41" fill="#6fa885"/><rect x="1281" y="97" width="1" height="58" fill="#69696d"/><rect x="1279" y="152" width="5" height="1" fill="#1e5634"/><rect x="1289" y="146" width="1" height="59" fill="#69696d"/><rect x="1287" y="162" width="5" height="36" fill="#5c0f08"/><rect x="1288" y="163" width="3" height="34" fill="#dc5745"/><rect x="1296" y="166" width="1" height="39" fill="#69696d"/><rect x="1294" y="185" width="5" height="3" fill="#5c0f08"/><rect x="1295" y="186" width="3" height="1" fill="#dc5745"/><rect x="1304" y="175" width="1" height="38" fill="#69696d"/><rect x="1302" y="188" width="5" height="7" fill="#5c0f08"/><rect x="1303" y="189" width="3" height="5" fill="#dc5745"/><rect x="1311" y="188" width="1" height="35" fill="#69696d"/><rect x="1309" y="195" width="5" height="12" fill="#1e5634"/><rect x="1310" y="196" width="3" height="10" fill="#6fa885"/><rect x="1319" y="194" width="1" height="41" fill="#69696d"/><rect x="1317" y="196" width="5" height="20" fill="#5c0f08"/><rect x="1318" y="197" width="3" height="18" fill="#dc5745"/><rect x="1326" y="191" width="1" height="34" fill="#69696d"/><rect x="1324" y="195" width="5" height="9" fill="#1e5634"/><rect x="1325" y="196" width="3" height="7" fill="#6fa885"/><rect x="1334" y="184" width="1" height="24" fill="#69696d"/><rect x="1332" y="194" width="5" height="9" fill="#5c0f08"/><rect x="1333" y="195" width="3" height="7" fill="#dc5745"/><rect x="1342" y="190" width="1" height="44" fill="#69696d"/><rect x="1340" y="200" width="5" height="1" fill="#5c0f08"/><rect x="1349" y="197" width="1" height="20" fill="#69696d"/><rect x="1347" y="202" width="5" height="9" fill="#5c0f08"/><rect x="1348" y="203" width="3" height="7" fill="#dc5745"/><rect x="1357" y="200" width="1" height="32" fill="#69696d"/><rect x="1355" y="221" width="5" height="1" fill="#1e5634"/><rect x="1364" y="178" width="1" height="39" fill="#69696d"/><rect x="1362" y="180" width="5" height="35" fill="#1e5634"/><rect x="1363" y="181" width="3" height="33" fill="#6fa885"/><rect x="1372" y="131" width="1" height="38" fill="#69696d"/><rect x="1370" y="138" width="5" height="30" fill="#1e5634"/><rect x="1371" y="139" width="3" height="28" fill="#6fa885"/><rect x="1379" y="103" width="1" height="38" fill="#69696d"/><rect x="1377" y="118" width="5" height="18" fill="#1e5634"/><rect x="1378" y="119" width="3" height="16" fill="#6fa885"/><rect x="1387" y="87" width="1" height="51" fill="#69696d"/><rect x="1385" y="91" width="5" height="39" fill="#1e5634"/><rect x="1386" y="92" width="3" height="37" fill="#6fa885"/><rect x="1394" y="77" width="1" height="48" fill="#69696d"/><rect x="1392" y="90" width="5" height="21" fill="#5c0f08"/><rect x="1393" y="91" width="3" height="19" fill="#dc5745"/><rect x="1402" y="103" width="1" height="27" fill="#69696d"/><rect x="1400" y="103" width="5" height="14" fill="#5c0f08"/><rect x="1401" y="104" width="3" height="12" fill="#dc5745"/></g><g shape-rendering="crispEdges"><line x1="0" y1="116.5" x2="1439" y2="116.5" stroke="#e0503c" stroke-width="1" stroke-dasharray="1 2"/></g><polyline points="0.0,713.1 8.0,707.8 15.9,707.8 21.9,711.2 29.9,715.1 37.8,723.1 44.8,718.5 52.8,718.1 60.7,724.5 67.7,728.5 74.7,729.5 82.6,731.1 89.6,741.6 97.6,746.4 105.1,739.0 112.5,740.0 119.9,747.0 127.4,744.4 135.4,738.0 142.3,735.6 151.3,742.4 159.3,741.6 166.2,742.0 172.8,743.6 180.8,738.6 188.1,740.4 196.1,740.4 211.0,731.1 219.0,738.0 226.0,744.0 233.9,753.0 240.9,749.0 248.9,752.4 256.8,754.0 263.8,755.6 270.8,754.4 278.7,751.0 286.7,743.0 293.6,739.6 300.0,740.4 308.9,741.6 316.9,745.4 324.8,744.4 331.8,742.6 339.8,743.0 346.7,745.0 354.7,743.6 362.7,741.6 369.6,740.0 376.6,738.6 384.6,740.4 391.5,738.0 399.1,732.5 407.5,728.7 413.8,724.5 421.8,726.5 429.0,720.5 436.9,710.2 444.3,710.6 452.3,706.2 459.6,703.6 467.2,706.2 474.7,712.8 482.1,711.2 489.1,710.2 497.0,707.2 504.6,706.2 512.0,708.8 519.3,713.1 526.9,709.8 534.9,710.6 542.4,713.1 549.8,718.1 557.8,726.5 564.7,726.1 572.7,738.4 579.7,742.6 588.0,732.7 594.9,716.1 602.9,715.7 609.9,714.7 617.4,708.8 624.8,705.2 632.8,710.2 640.7,706.6 647.7,714.5 655.7,719.7 662.6,710.2 670.6,710.2 677.6,714.7 685.5,708.2 693.1,707.2 700.8,717.5 707.8,716.5 715.4,709.8 722.9,708.8 731.3,710.6 738.7,712.8 746.2,723.1 753.8,749.6 761.2,753.0 769.1,757.3 776.1,756.3 784.1,746.0 791.4,739.4 799.0,734.6 806.0,724.5 813.9,719.5 820.9,718.1 828.9,719.1 836.8,721.5 843.8,724.1 851.8,730.7 858.7,726.5 866.7,725.7 874.3,730.1 881.9,726.5 888.9,728.5 896.9,725.7 904.2,704.6 911.8,705.8 919.4,715.1 927.7,710.8 934.7,704.2 942.1,717.7 950.0,713.7 957.0,704.2 965.0,726.1 972.5,708.2 980.5,697.8 987.5,702.2 995.0,706.6 1002.4,705.8 1009.4,706.8 1016.7,710.6 1025.3,701.8 1032.9,698.2 1040.2,706.6 1047.8,713.1 1055.1,710.8 1062.7,709.8 1070.1,715.7 1078.0,724.1 1085.0,730.1 1093.0,737.6 1100.3,734.1 1107.9,726.7 1114.9,726.5 1122.8,727.5 1129.8,720.7 1137.8,740.6 1145.7,743.6 1153.1,729.1 1160.7,723.7 1168.0,728.7 1175.9,719.1 1182.9,710.8 1190.9,705.6 1198.2,715.5 1205.8,710.2 1212.8,689.7 1220.7,695.2 1228.1,700.2 1235.7,714.1 1243.6,725.7 1251.2,731.7 1258.9,726.5 1266.1,715.5 1273.9,696.6 1281.0,694.8 1289.0,709.8 1296.4,712.8 1311.3,719.1 1318.9,722.7 1326.2,720.5 1333.8,719.5 1341.2,722.5 1349.1,723.7 1356.7,727.7 1364.1,718.1 1371.6,703.2 1379.0,698.8 1387.0,698.8 1393.9,701.8 1401.9,707.8" fill="none" stroke="#2962ff" stroke-width="1.15" stroke-linejoin="round" stroke-linecap="round" clip-path="url(#cci)"/><polyline points="0.0,765.5 8.0,766.9 21.9,769.9 29.9,768.9 52.8,767.1 59.7,769.5 74.7,771.5 89.6,768.9 105.1,767.9 113.5,766.5 127.4,770.3 135.4,770.3 142.3,771.9 151.3,767.9 166.2,768.5 173.2,769.5 187.1,773.3 196.1,772.3 203.1,773.5 211.0,775.9 219.0,774.5 233.9,773.9 241.9,772.9 248.9,770.5 256.8,771.9 264.8,768.9 270.8,767.9 278.7,768.5 285.7,767.5 294.0,770.9 308.9,771.9 316.9,767.9 323.8,765.5 339.8,765.9 354.7,769.3 361.7,770.5 377.6,780.4 391.5,780.2 398.5,778.3 407.5,782.8 421.4,781.2 429.4,775.9 445.3,773.3 453.2,774.5 482.1,777.9 497.0,778.8 505.0,780.2 518.9,782.8 534.9,784.4 542.8,783.2 557.8,783.2 572.7,780.4 580.0,779.4 594.9,778.3 609.9,781.4 617.8,781.8 632.8,783.8 647.7,783.2 662.6,784.8 670.6,787.2 677.6,788.4 685.5,787.2 693.5,785.4 700.4,782.8 707.8,780.8 715.4,781.8 722.9,784.8 731.3,782.8 738.7,782.8 746.2,784.8 753.8,782.8 761.2,783.8 769.1,781.8 776.1,783.0 784.1,782.8 799.0,783.8 806.0,782.2 813.9,784.2 828.9,788.8 836.8,790.8 851.8,792.4 858.7,792.8 866.7,794.4 880.9,796.2 896.9,801.7 903.8,797.8 911.8,797.4 927.7,797.2 934.7,798.8 942.1,798.2 950.0,795.4 957.0,797.8 965.0,794.4 972.5,792.2 980.5,791.2 995.0,791.2 1002.4,790.2 1016.7,789.8 1025.3,788.2 1040.2,786.8 1055.1,786.8 1062.7,790.8 1070.1,791.4 1078.0,790.4 1093.0,791.8 1107.9,793.8 1114.9,794.2 1122.8,795.8 1129.8,795.4 1137.8,791.8 1145.7,792.2 1153.1,793.2 1160.7,794.8 1168.0,796.4 1175.9,796.8 1182.9,795.2 1190.9,796.2 1205.8,795.4 1212.8,793.8 1220.7,794.8 1228.1,794.2 1235.7,791.8 1243.6,790.8 1251.2,791.2 1258.9,790.4 1266.1,789.2 1273.9,785.2 1281.0,783.8 1289.0,782.4 1296.4,783.2 1311.3,784.8 1318.9,785.2 1326.2,786.4 1333.8,788.4 1341.2,788.2 1349.1,790.4 1356.7,791.4 1364.1,791.0 1371.6,790.0 1379.0,790.2 1387.0,789.2 1393.9,788.6 1401.9,790.0" fill="none" stroke="#c62828" stroke-width="1.1" stroke-linejoin="round" stroke-linecap="round" clip-path="url(#atr)"/><g transform="translate(1402.5,672.4)"><path d="M2.87,-9.37 A9.8,9.8 0 1 0 9.4,-2.78" fill="none" stroke="#9c1fb4" stroke-width="1.5" stroke-linecap="round"/><path d="M2.9,-5.2 L-2.6,0.3 L2.6,-0.3 L-2.9,5.3" fill="none" stroke="#9c1fb4" stroke-width="1.7" stroke-linejoin="miter" stroke-miterlimit="10"/><circle cx="7" cy="-6.9" r="2.6" fill="#f23645"/></g><path d="M4,8 H742 V32 H98 V62 H137 V112 H143 V136 H4 Z" fill="#ffffff" fill-opacity="0.5"/><rect x="4" y="697" width="161" height="17" fill="#ffffff" fill-opacity="0.5"/><rect x="4" y="763" width="124" height="28" fill="#ffffff" fill-opacity="0.5"/><g shape-rendering="crispEdges"><rect x="0" y="685" width="1505" height="1" fill="#e0e3eb"/><rect x="0" y="762" width="1505" height="1" fill="#e0e3eb"/></g><g shape-rendering="crispEdges"><rect x="1439" y="4" width="1" height="681" fill="#4a4a4a"/><rect x="1439" y="686" width="1" height="76" fill="#4a4a4a"/><rect x="1439" y="763" width="1" height="70" fill="#4a4a4a"/><rect x="0" y="805" width="1505" height="1" fill="#4a4a4a"/></g><g clip-path="url(#pax)"><text x="1447.5" y="65.6" font-size="11.5" fill="#555555" font-weight="normal" text-anchor="start" textLength="37.5" lengthAdjust="spacingAndGlyphs">3.400%</text><text x="1447.5" y="178.6" font-size="11.5" fill="#555555" font-weight="normal" text-anchor="start" textLength="37.5" lengthAdjust="spacingAndGlyphs">3.200%</text><text x="1447.5" y="235.1" font-size="11.5" fill="#555555" font-weight="normal" text-anchor="start" textLength="37.5" lengthAdjust="spacingAndGlyphs">3.100%</text><text x="1447.5" y="291.6" font-size="11.5" fill="#555555" font-weight="normal" text-anchor="start" textLength="37.5" lengthAdjust="spacingAndGlyphs">3.000%</text><text x="1447.5" y="348.1" font-size="11.5" fill="#555555" font-weight="normal" text-anchor="start" textLength="37.5" lengthAdjust="spacingAndGlyphs">2.900%</text><text x="1447.5" y="404.6" font-size="11.5" fill="#555555" font-weight="normal" text-anchor="start" textLength="37.5" lengthAdjust="spacingAndGlyphs">2.800%</text><text x="1447.5" y="461.1" font-size="11.5" fill="#555555" font-weight="normal" text-anchor="start" textLength="37.5" lengthAdjust="spacingAndGlyphs">2.700%</text><text x="1447.5" y="517.6" font-size="11.5" fill="#555555" font-weight="normal" text-anchor="start" textLength="37.5" lengthAdjust="spacingAndGlyphs">2.600%</text><text x="1447.5" y="574.1" font-size="11.5" fill="#555555" font-weight="normal" text-anchor="start" textLength="37.5" lengthAdjust="spacingAndGlyphs">2.500%</text><text x="1447.5" y="630.6" font-size="11.5" fill="#555555" font-weight="normal" text-anchor="start" textLength="37.5" lengthAdjust="spacingAndGlyphs">2.400%</text><text x="1447.5" y="687.1" font-size="11.5" fill="#555555" font-weight="normal" text-anchor="start" textLength="37.5" lengthAdjust="spacingAndGlyphs">2.300%</text></g><text x="1447.5" y="699.5" font-size="11.5" fill="#555555" font-weight="normal" text-anchor="start" textLength="36" lengthAdjust="spacingAndGlyphs">200.00</text><text x="1447.5" y="758.5" font-size="11.5" fill="#555555" font-weight="normal" text-anchor="start" textLength="42.5" lengthAdjust="spacingAndGlyphs">−200.00</text><text x="1447.5" y="771.5" font-size="11.5" fill="#555555" font-weight="normal" text-anchor="start" textLength="37.5" lengthAdjust="spacingAndGlyphs">0.100%</text><rect x="1443.5" y="8.5" width="57" height="25" rx="4" ry="4" fill="#fff" stroke="#e0e3eb" stroke-width="1"/><text x="1446.8" y="24.8" font-size="12.5" fill="#131722" font-weight="normal" text-anchor="start" textLength="8.2" lengthAdjust="spacingAndGlyphs">%</text><path d="M1439,89 H1488 Q1490,89 1490,91 V104 Q1490,106 1488,106 H1439 Z" fill="#000"/><text x="1447.5" y="101.8" font-size="12" fill="#fff" font-weight="bold" text-anchor="start" textLength="37.5" lengthAdjust="spacingAndGlyphs">3.337%</text><path d="M1439,108 H1498 Q1500,108 1500,110 V123 Q1500,125 1498,125 H1439 Z" fill="#d95240"/><text x="1448.5" y="120.8" font-size="12" fill="#fbe3df" font-weight="normal" text-anchor="start" textLength="46" lengthAdjust="spacingAndGlyphs">12:42:57</text><text x="-7.5" y="823.1" font-size="11.8" fill="#444" font-weight="normal" text-anchor="start" textLength="14" lengthAdjust="spacingAndGlyphs">27</text><text x="72.8" y="823.1" font-size="11.8" fill="#444" font-weight="normal" text-anchor="start" textLength="20.2" lengthAdjust="spacingAndGlyphs">Nov</text><text x="158.71" y="823.1" font-size="11.8" fill="#444" font-weight="normal" text-anchor="start" textLength="13.7" lengthAdjust="spacingAndGlyphs">16</text><text x="238.53" y="823.1" font-size="11.8" fill="#444" font-weight="normal" text-anchor="start" textLength="20.4" lengthAdjust="spacingAndGlyphs">Dec</text><text x="392.17" y="823.1" font-size="11.8" fill="#444" font-weight="bold" text-anchor="start" textLength="29.2" lengthAdjust="spacingAndGlyphs">2024</text><text x="482.84" y="823.1" font-size="11.8" fill="#444" font-weight="normal" text-anchor="start" textLength="13.7" lengthAdjust="spacingAndGlyphs">16</text><text x="570.19" y="823.1" font-size="11.8" fill="#444" font-weight="normal" text-anchor="start" textLength="20.4" lengthAdjust="spacingAndGlyphs">Feb</text><text x="728.33" y="823.1" font-size="11.8" fill="#444" font-weight="normal" text-anchor="start" textLength="20.7" lengthAdjust="spacingAndGlyphs">Mar</text><text x="887.28" y="823.1" font-size="11.8" fill="#444" font-weight="normal" text-anchor="start" textLength="19.4" lengthAdjust="spacingAndGlyphs">Apr</text><text x="972.79" y="823.1" font-size="11.8" fill="#444" font-weight="normal" text-anchor="start" textLength="13.7" lengthAdjust="spacingAndGlyphs">16</text><text x="1051.61" y="823.1" font-size="11.8" fill="#444" font-weight="normal" text-anchor="start" textLength="22.4" lengthAdjust="spacingAndGlyphs">May</text><text x="1138.62" y="823.1" font-size="11.8" fill="#444" font-weight="normal" text-anchor="start" textLength="13.7" lengthAdjust="spacingAndGlyphs">16</text><text x="1226.38" y="823.1" font-size="11.8" fill="#444" font-weight="normal" text-anchor="start" textLength="19.6" lengthAdjust="spacingAndGlyphs">Jun</text><text x="1378.83" y="823.1" font-size="11.8" fill="#444" font-weight="normal" text-anchor="start" textLength="16.2" lengthAdjust="spacingAndGlyphs">Jul</text><g transform="translate(1472.4,819.4)" fill="none" stroke="#131722" stroke-width="1.15" stroke-linejoin="round"><path d="M-7,0 L-3.6,-5.8 L3.6,-5.8 L7,0 L3.6,5.8 L-3.6,5.8 Z"/><circle cx="0" cy="0" r="1.9"/></g><clipPath id="flag"><circle cx="18" cy="20" r="9"/></clipPath><g clip-path="url(#flag)"><rect x="9" y="11" width="6.3" height="18" fill="#1565c0"/><rect x="15.3" y="11" width="5.7" height="18" fill="#fdfdff"/><rect x="21" y="11" width="6" height="18" fill="#ef5350"/></g><text x="31.1" y="25.8" font-size="15.9" fill="#555" font-weight="normal" text-anchor="start" textLength="48.2" lengthAdjust="spacingAndGlyphs" text-rendering="geometricPrecision">France</text><text x="84.7" y="25.8" font-size="15.9" fill="#555" font-weight="normal" text-anchor="start" textLength="87.5" lengthAdjust="spacingAndGlyphs" text-rendering="geometricPrecision">Government</text><text x="177.6" y="25.8" font-size="15.9" fill="#555" font-weight="normal" text-anchor="start" textLength="41.7" lengthAdjust="spacingAndGlyphs" text-rendering="geometricPrecision">Bonds</text><text x="224.1" y="25.8" font-size="15.9" fill="#555" font-weight="normal" text-anchor="start" textLength="16.2" lengthAdjust="spacingAndGlyphs" text-rendering="geometricPrecision">10</text><text x="245.7" y="25.8" font-size="15.9" fill="#555" font-weight="normal" text-anchor="start" textLength="17.8" lengthAdjust="spacingAndGlyphs" text-rendering="geometricPrecision">YR</text><text x="268.4" y="25.8" font-size="15.9" fill="#555" font-weight="normal" text-anchor="start" textLength="34.0" lengthAdjust="spacingAndGlyphs" text-rendering="geometricPrecision">Yield</text><text x="306.8" y="25.8" font-size="15.9" fill="#555" font-weight="normal" text-anchor="start" textLength="4.8" lengthAdjust="spacingAndGlyphs" text-rendering="geometricPrecision">·</text><text x="315.3" y="25.8" font-size="15.9" fill="#555" font-weight="normal" text-anchor="start" textLength="18.2" lengthAdjust="spacingAndGlyphs" text-rendering="geometricPrecision">1D</text><text x="336.9" y="25.8" font-size="15.9" fill="#555" font-weight="normal" text-anchor="start" textLength="4.9" lengthAdjust="spacingAndGlyphs" text-rendering="geometricPrecision">·</text><text x="345.2" y="25.8" font-size="15.9" fill="#555" font-weight="normal" text-anchor="start" textLength="28.4" lengthAdjust="spacingAndGlyphs" text-rendering="geometricPrecision">TVC</text><circle cx="397.8" cy="19.8" r="8.7" fill="#dff2ef"/><circle cx="397.8" cy="19.8" r="4.2" fill="#0a9981"/><text x="422.3" y="24.6" font-size="12" fill="#666" font-weight="normal" text-anchor="start" textLength="8.6" lengthAdjust="spacingAndGlyphs">O</text><text x="432.3" y="24.6" font-size="12" fill="#782828" font-weight="normal" text-anchor="start" textLength="40" lengthAdjust="spacingAndGlyphs">3.327%</text><text x="478.5" y="24.6" font-size="12" fill="#666" font-weight="normal" text-anchor="start" textLength="8.2" lengthAdjust="spacingAndGlyphs">H</text><text x="487.7" y="24.6" font-size="12" fill="#782828" font-weight="normal" text-anchor="start" textLength="40" lengthAdjust="spacingAndGlyphs">3.328%</text><text x="533.4" y="24.6" font-size="12" fill="#666" font-weight="normal" text-anchor="start" textLength="6" lengthAdjust="spacingAndGlyphs">L</text><text x="540.7" y="24.6" font-size="12" fill="#782828" font-weight="normal" text-anchor="start" textLength="40" lengthAdjust="spacingAndGlyphs">3.279%</text><text x="586.4" y="24.6" font-size="12" fill="#666" font-weight="normal" text-anchor="start" textLength="8.2" lengthAdjust="spacingAndGlyphs">C</text><text x="595.5" y="24.6" font-size="12" fill="#782828" font-weight="normal" text-anchor="start" textLength="40.3" lengthAdjust="spacingAndGlyphs">3.305%</text><text x="642.3" y="24.6" font-size="12" fill="#782828" font-weight="normal" text-anchor="start" textLength="38.5" lengthAdjust="spacingAndGlyphs">−0.009</text><text x="685.5" y="24.6" font-size="12" fill="#782828" font-weight="normal" text-anchor="start" textLength="48.5" lengthAdjust="spacingAndGlyphs">(−0.27%)</text><rect x="8.7" y="36.7" width="46.6" height="22.6" rx="4" ry="4" fill="#fff" stroke="#f23645" stroke-width="1.1"/><text x="15.8" y="52.7" font-size="12.5" fill="#f23645" font-weight="normal" text-anchor="start" textLength="32.3" lengthAdjust="spacingAndGlyphs">3.314</text><text x="63.5" y="52.5" font-size="12" fill="#131722" font-weight="normal" text-anchor="start" textLength="27.2" lengthAdjust="spacingAndGlyphs">0.001</text><rect x="99.7" y="36.7" width="46.6" height="22.6" rx="4" ry="4" fill="#fff" stroke="#2962ff" stroke-width="1.1"/><text x="107.3" y="52.7" font-size="12.5" fill="#2962ff" font-weight="normal" text-anchor="start" textLength="32.3" lengthAdjust="spacingAndGlyphs">3.315</text><text x="8.8" y="80.6" font-size="12" fill="#4f4f4f" font-weight="normal" text-anchor="start" textLength="23.5" lengthAdjust="spacingAndGlyphs">SMA</text><text x="36.1" y="80.6" font-size="12" fill="#4f4f4f" font-weight="normal" text-anchor="start" textLength="13.3" lengthAdjust="spacingAndGlyphs">20</text><text x="53.5" y="80.6" font-size="12" fill="#4f4f4f" font-weight="normal" text-anchor="start" textLength="29.5" lengthAdjust="spacingAndGlyphs">close</text><text x="91.6" y="80.6" font-size="12" fill="#f23645" font-weight="normal" text-anchor="start" textLength="39.8" lengthAdjust="spacingAndGlyphs">3.194%</text><text x="8.8" y="104.6" font-size="12" fill="#4f4f4f" font-weight="normal" text-anchor="start" textLength="23.5" lengthAdjust="spacingAndGlyphs">SMA</text><text x="36.1" y="104.6" font-size="12" fill="#4f4f4f" font-weight="normal" text-anchor="start" textLength="13.3" lengthAdjust="spacingAndGlyphs">50</text><text x="53.5" y="104.6" font-size="12" fill="#4f4f4f" font-weight="normal" text-anchor="start" textLength="29.5" lengthAdjust="spacingAndGlyphs">close</text><text x="91.6" y="104.6" font-size="12" fill="#3a3aff" font-weight="normal" text-anchor="start" textLength="39.8" lengthAdjust="spacingAndGlyphs">3.101%</text><text x="8.8" y="128.6" font-size="12" fill="#4f4f4f" font-weight="normal" text-anchor="start" textLength="23.5" lengthAdjust="spacingAndGlyphs">SMA</text><text x="36.1" y="128.6" font-size="12" fill="#4f4f4f" font-weight="normal" text-anchor="start" textLength="20.5" lengthAdjust="spacingAndGlyphs">200</text><text x="60.2" y="128.6" font-size="12" fill="#4f4f4f" font-weight="normal" text-anchor="start" textLength="29.1" lengthAdjust="spacingAndGlyphs">close</text><text x="98.1" y="128.6" font-size="12" fill="#131722" font-weight="normal" text-anchor="start" textLength="40.2" lengthAdjust="spacingAndGlyphs">2.993%</text><rect x="9.5" y="138.5" width="28" height="20" rx="3" ry="3" fill="#fff" fill-opacity="0.7" stroke="#d6d9e0" stroke-width="1"/><path d="M19.5,150.5 L23.5,146.5 L27.5,150.5" fill="none" stroke="#131722" stroke-width="1.4"/><text x="9.0" y="706.8" font-size="12" fill="#4f4f4f" font-weight="normal" text-anchor="start" textLength="18.9" lengthAdjust="spacingAndGlyphs">CCI</text><text x="32.1" y="706.8" font-size="12" fill="#4f4f4f" font-weight="normal" text-anchor="start" textLength="14.2" lengthAdjust="spacingAndGlyphs">20</text><text x="50.2" y="706.8" font-size="12" fill="#4f4f4f" font-weight="normal" text-anchor="start" textLength="23.7" lengthAdjust="spacingAndGlyphs">hlc3</text><text x="77.2" y="706.8" font-size="12" fill="#4f4f4f" font-weight="normal" text-anchor="start" textLength="23.8" lengthAdjust="spacingAndGlyphs">SMA</text><text x="104.3" y="706.8" font-size="12" fill="#4f4f4f" font-weight="normal" text-anchor="start" textLength="6.6" lengthAdjust="spacingAndGlyphs">5</text><text x="118.8" y="706.8" font-size="12" fill="#2962ff" font-weight="normal" text-anchor="start" textLength="38.8" lengthAdjust="spacingAndGlyphs">115.83</text><g fill="#80838c"><path d="M15,777.6 H24.2 V790.8 H18 V782.8 H15 Z"/><circle cx="28.6" cy="780.2" r="2.5"/><path d="M36.5,777.6 H42 L36.2,790.8 H29.4 Z"/></g><text x="9.1" y="784" font-size="12" fill="#4f4f4f" font-weight="normal" text-anchor="start" textLength="22.2" lengthAdjust="spacingAndGlyphs">ATR</text><text x="36.6" y="784" font-size="12" fill="#4f4f4f" font-weight="normal" text-anchor="start" textLength="11.9" lengthAdjust="spacingAndGlyphs">14</text><text x="52.2" y="784" font-size="12" fill="#4f4f4f" font-weight="normal" text-anchor="start" textLength="25.1" lengthAdjust="spacingAndGlyphs">RMA</text><text x="84.2" y="784" font-size="12" fill="#c62828" font-weight="normal" text-anchor="start" textLength="40.5" lengthAdjust="spacingAndGlyphs">0.072%</text></svg>
</body></html>
